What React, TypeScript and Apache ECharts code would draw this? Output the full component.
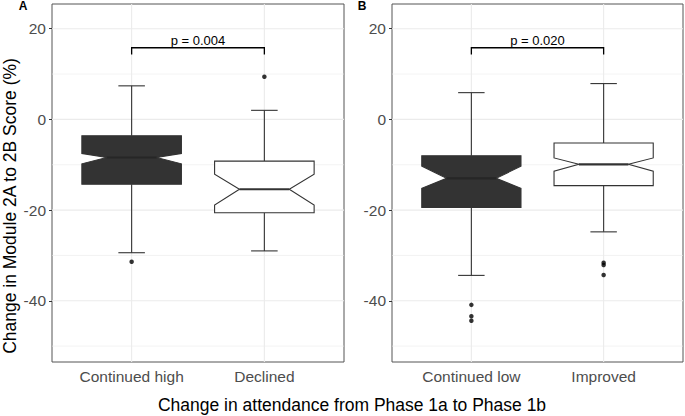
import React, { useEffect, useRef } from "react";
import * as echarts from "echarts";

// ---- data ----
const categoriesA = ["Continued high", "Declined"];
const categoriesB = ["Continued low", "Improved"];

// box stats per category: [lowerWhisker, Q1, notchLow, median, notchHigh, Q3, upperWhisker]
const statsA = [
  [-29.4, -14.3, -9.8, -8.4, -7.5, -3.6, 7.4],
  [-29.0, -20.6, -18.9, -15.4, -12.1, -9.2, 2.0],
];
const statsB = [
  [-34.4, -19.4, -15.2, -13.0, -10.3, -8.0, 5.9],
  [-24.8, -14.6, -11.4, -9.9, -8.5, -5.2, 7.9],
];

const outliersA = [[-31.4], [9.4]];
const outliersB = [
  [-40.9, -43.4, -44.4],
  [-31.6, -32.1, -34.3],
];

const boxFills = ["#333333", "#ffffff"];

// bracket: [y of bar, y of tick ends]
const bracketA = [15.8, 14.3];
const bracketB = [15.8, 14.3];
const pLabelA = "p = 0.004";
const pLabelB = "p = 0.020";

const yTicks = [-40, -20, 0, 20];
const yMinor = [-50, -30, -10, 10];
const xTicks = [1, 2];

const yMin = -53.5;
const yMax = 25.45;

const FONT = "Liberation Sans, Arial, Helvetica, sans-serif";
const LINE = "#333333";

function buildPanel(
  idx: number,
  cats: string[],
  stats: number[][],
  outliers: number[][],
  bracket: number[],
  pLabel: string
) {
  const series: any[] = [];
  // grid lines
  const gridData: number[][] = [];
  yMinor.forEach((v) => gridData.push([0, v, 0]));
  yTicks.forEach((v) => gridData.push([0, v, 1]));
  xTicks.forEach((v) => gridData.push([1, v, 1]));
  series.push({
    type: "custom",
    xAxisIndex: idx,
    yAxisIndex: idx,
    z: 1,
    silent: true,
    data: gridData,
    encode: { x: -1, y: -1 },
    renderItem: (params: any, api: any) => {
      const cs = params.coordSys;
      const dir = api.value(0);
      const v = api.value(1);
      const major = api.value(2) === 1;
      const style = { stroke: "#ebebeb", lineWidth: major ? 1.1 : 0.6 };
      if (dir === 0) {
        const y = api.coord([1, v])[1];
        return { type: "line", shape: { x1: cs.x, y1: y, x2: cs.x + cs.width, y2: y }, style };
      }
      const x = api.coord([v, 0])[0];
      return { type: "line", shape: { x1: x, y1: cs.y, x2: x, y2: cs.y + cs.height }, style };
    },
  });

  // boxes
  series.push({
    type: "custom",
    xAxisIndex: idx,
    yAxisIndex: idx,
    z: 3,
    silent: true,
    data: stats.map((s, i) => [i + 1, ...s, i]),
    encode: { x: 0, y: [1, 7] },
    renderItem: (params: any, api: any) => {
      const x = api.value(0);
      const lw = api.value(1), q1 = api.value(2), nl = api.value(3), med = api.value(4),
        nh = api.value(5), q3 = api.value(6), uw = api.value(7);
      const fill = boxFills[api.value(8)];
      const c = (xx: number, yy: number) => api.coord([xx, yy]);
      const hw = 0.375, nw = 0.1875, cw = 0.1;
      const st = { stroke: LINE, lineWidth: 1.1 };
      const ln = (a: number[], b: number[], style: any = st) => ({
        type: "line",
        shape: { x1: a[0], y1: a[1], x2: b[0], y2: b[1] },
        style,
      });
      const pts = [
        c(x - hw, q3), c(x + hw, q3), c(x + hw, nh), c(x + nw, med), c(x + hw, nl),
        c(x + hw, q1), c(x - hw, q1), c(x - hw, nl), c(x - nw, med), c(x - hw, nh),
      ];
      return {
        type: "group",
        children: [
          ln(c(x, q3), c(x, uw)),
          ln(c(x, q1), c(x, lw)),
          ln(c(x - cw, uw), c(x + cw, uw)),
          ln(c(x - cw, lw), c(x + cw, lw)),
          { type: "polygon", shape: { points: pts }, style: { fill, stroke: LINE, lineWidth: 1.1 } },
          ln(c(x - nw, med), c(x + nw, med), { stroke: api.value(8) === 0 ? "#262626" : LINE, lineWidth: 2.2 }),
        ],
      };
    },
  });

  // outliers
  const pts: number[][] = [];
  outliers.forEach((arr, i) => arr.forEach((v) => pts.push([i + 1, v])));
  series.push({
    type: "scatter",
    xAxisIndex: idx,
    yAxisIndex: idx,
    z: 4,
    silent: true,
    symbolSize: 4.5,
    itemStyle: { color: "#000" },
    data: pts,
  });

  // bracket with p label
  series.push({
    type: "custom",
    xAxisIndex: idx,
    yAxisIndex: idx,
    z: 5,
    silent: true,
    data: [[1, 2, bracket[0], bracket[1]]],
    encode: { x: [0, 1], y: [2, 3] },
    renderItem: (params: any, api: any) => {
      const x1 = api.value(0), x2 = api.value(1), yb = api.value(2), yt = api.value(3);
      const a = api.coord([x1, yt]);
      const b = api.coord([x1, yb]);
      const cc = api.coord([x2, yb]);
      const d = api.coord([x2, yt]);
      return {
        type: "group",
        children: [
          { type: "polyline", shape: { points: [a, b, cc, d] }, style: { stroke: "#000", lineWidth: 1.3, fill: null } },
          {
            type: "text",
            x: (b[0] + cc[0]) / 2,
            y: b[1] - 1,
            style: {
              text: pLabel,
              textAlign: "center",
              textVerticalAlign: "bottom",
              fontSize: 13,
              fontFamily: FONT,
              fill: "#000",
            },
          },
        ],
      };
    },
  });

  const xAxis = {
    type: "value",
    gridIndex: idx,
    min: 0.4,
    max: 2.6,
    axisLine: { show: false },
    splitLine: { show: false },
    axisTick: { show: true, customValues: xTicks, length: 4, lineStyle: { color: LINE } },
    axisLabel: {
      customValues: xTicks,
      formatter: (v: number) => cats[Math.round(v) - 1] ?? "",
      fontSize: 15.5,
      color: "#4d4d4d",
      fontFamily: FONT,
      margin: 6,
    },
  };
  const yAxis = {
    type: "value",
    gridIndex: idx,
    min: yMin,
    max: yMax,
    axisLine: { show: false },
    splitLine: { show: false },
    axisTick: { show: true, customValues: yTicks, length: 3, lineStyle: { color: LINE } },
    axisLabel: {
      customValues: yTicks,
      fontSize: 15.5,
      color: "#4d4d4d",
      fontFamily: FONT,
      margin: 6,
    },
  };
  return { series, xAxis, yAxis };
}

export default function App() {
  const ref = useRef<HTMLDivElement>(null);
  useEffect(() => {
    if (!ref.current) return;
    const chart = echarts.init(ref.current, null, { renderer: "svg" });
    const pA = buildPanel(0, categoriesA, statsA, outliersA, bracketA, pLabelA);
    const pB = buildPanel(1, categoriesB, statsB, outliersB, bracketB, pLabelB);
    const gridBase = { top: 4, height: 358, show: true, borderColor: "#555555", borderWidth: 1, backgroundColor: "#ffffff" };
    chart.setOption({
      animation: false,
      backgroundColor: "#ffffff",
      grid: [
        { ...gridBase, left: 52, width: 292 },
        { ...gridBase, left: 392, width: 291 },
      ],
      xAxis: [pA.xAxis, pB.xAxis],
      yAxis: [pA.yAxis, pB.yAxis],
      series: [...pA.series, ...pB.series],
      graphic: [
        {
          type: "text",
          x: 23,
          y: 6,
          style: { text: "A", fontSize: 12, fontWeight: "bold", fontFamily: FONT, textAlign: "center", textVerticalAlign: "middle", fill: "#000" },
        },
        {
          type: "text",
          x: 362,
          y: 6,
          style: { text: "B", fontSize: 12, fontWeight: "bold", fontFamily: FONT, textAlign: "center", textVerticalAlign: "middle", fill: "#000" },
        },
        {
          type: "text",
          x: 352,
          y: 405,
          style: { text: "Change in attendance from Phase 1a to Phase 1b", fontSize: 17.5, fontFamily: FONT, textAlign: "center", textVerticalAlign: "middle", fill: "#000" },
        },
        {
          type: "text",
          x: 10,
          y: 206,
          rotation: Math.PI / 2,
          style: { text: "Change in Module 2A to 2B Score (%)", fontSize: 17.5, fontFamily: FONT, textAlign: "center", textVerticalAlign: "middle", fill: "#000" },
        },
      ],
    });
    return () => chart.dispose();
  }, []);
  return <div ref={ref} style={{ position: "fixed", left: 0, top: 0, width: 685, height: 416 }} />;
}
